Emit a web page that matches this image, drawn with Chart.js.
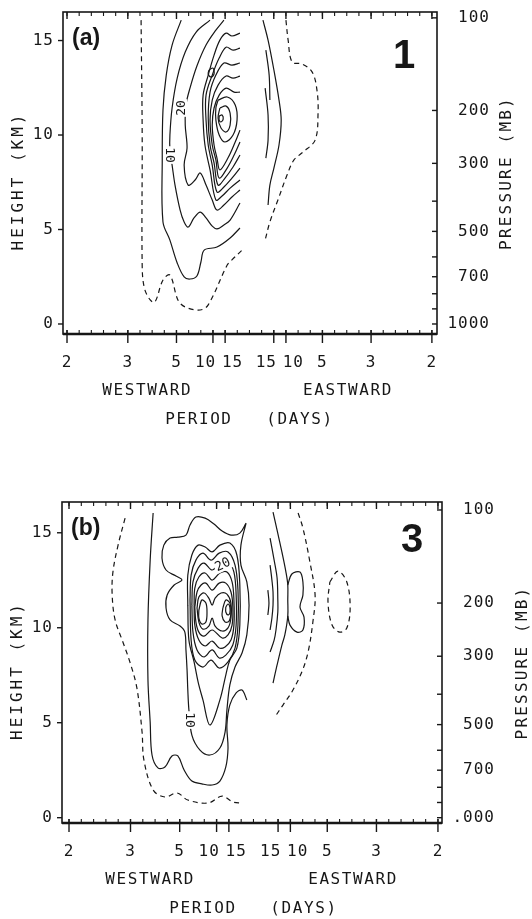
<!DOCTYPE html>
<html>
<head>
<meta charset="utf-8">
<script src="https://cdn.jsdelivr.net/npm/chart.js@4.4.1/dist/chart.umd.min.js"></script>
<style>
  html, body { margin: 0; padding: 0; background: #fff; }
  body { width: 532px; height: 919px; position: relative; overflow: hidden; }
  canvas { position: absolute; left: 0; }
  #chartA { top: 0; }
  #chartB { top: 460px; }
</style>
</head>
<body>
<canvas id="chartA" width="532" height="460"></canvas>
<canvas id="chartB" width="532" height="459"></canvas>
<script>
// ---------- axes ----------
// x is frequency in cycles/day (westward < 0), labelled by period in days
const periods = [2, 3, 5, 10, 15];
const heightTicks = [0, 5, 10, 15];                       // km
const pressureLevels = [100, 200, 300, 400, 500, 600, 700, 800, 900, 1000]; // mb
const pressureHeights = [16.2, 11.3, 8.5, 6.5, 4.9, 3.55, 2.5, 1.6, 0.8, 0];
const pressureLabelled = [100, 200, 300, 500, 700, 1000];
const pressureTextA = ['100', '200', '300', '500', '700', '1000'];
const pressureTextB = ['100', '200', '300', '500', '700', '.000'];

// ---------- panel (a): contour lines, [frequency, height km] ----------
const aZeroWest = [[-0.297,16.08],[-0.294,10.0],[-0.294,3.1],[-0.288,1.9],[-0.272,1.27],[-0.259,1.16],[-0.237,2.33],[-0.218,2.59],
  [-0.196,1.27],[-0.176,0.90],[-0.135,0.74],[-0.113,1.01],[-0.061,3.12],[-0.048,3.39],[-0.020,3.91]];
const aZeroEast = [[0.100,16.08],[0.106,15.02],[0.117,13.86],[0.144,13.76],[0.172,13.33],[0.185,12.38],[0.188,11.16],[0.180,9.73],
  [0.147,9.10],[0.122,8.68],[0.103,7.88],[0.078,6.56],[0.056,5.40],[0.043,4.44]];
const aOuter = [[-0.187,16.08],[-0.212,14.76],[-0.228,13.17],[-0.237,11.32],[-0.239,8.68],[-0.237,5.40],[-0.218,4.44],[-0.198,3.23],
  [-0.179,2.49],[-0.163,2.38],[-0.144,2.54],[-0.133,3.28],[-0.124,3.91],[-0.089,4.07],[-0.053,4.55],[-0.026,5.08]];
const aLine10 = [[-0.108,16.08],[-0.146,15.45],[-0.176,14.39],[-0.198,13.01],[-0.212,11.43],[-0.218,10.00],[-0.218,9.20],[-0.212,8.41],
  [-0.204,7.35],[-0.190,6.03],[-0.179,5.40],[-0.168,5.13],[-0.152,5.61],[-0.135,5.92],[-0.119,5.61],[-0.102,5.18],[-0.089,5.03],
  [-0.070,5.24],[-0.053,5.50],[-0.026,6.40]];
const aLine20 = [[-0.070,16.08],[-0.092,15.55],[-0.119,14.76],[-0.144,13.65],[-0.163,12.48],[-0.174,11.59],[-0.176,10.53],[-0.171,9.31],
  [-0.179,8.41],[-0.168,7.35],[-0.149,7.62],[-0.135,7.99],[-0.119,7.35],[-0.102,6.56],[-0.089,6.03],[-0.070,6.30],[-0.048,6.72],[-0.026,7.09]];
const aLine30 = [[-0.026,15.39],[-0.048,15.24],[-0.064,15.39],[-0.081,15.02],[-0.097,14.23],[-0.113,13.17],[-0.127,12.11],[-0.127,10.79],
  [-0.122,9.47],[-0.108,8.15],[-0.092,6.56],[-0.075,6.77],[-0.053,7.19],[-0.026,7.62]];
const aLine40 = [[-0.026,14.60],[-0.045,14.49],[-0.064,14.65],[-0.083,14.07],[-0.102,13.17],[-0.119,12.11],[-0.119,10.79],[-0.113,9.47],
  [-0.102,8.41],[-0.089,6.98],[-0.070,7.25],[-0.048,7.72],[-0.026,8.25]];
const aLine50 = [[-0.026,13.81],[-0.048,13.70],[-0.070,13.81],[-0.092,13.17],[-0.108,12.27],[-0.113,10.90],[-0.108,9.47],[-0.097,8.52],
  [-0.086,7.35],[-0.067,7.72],[-0.045,8.31],[-0.026,8.94]];
const aLine60 = [[-0.026,13.12],[-0.045,13.01],[-0.064,13.12],[-0.086,12.64],[-0.102,11.85],[-0.108,10.79],[-0.102,9.47],[-0.092,8.68],
  [-0.083,7.72],[-0.061,8.25],[-0.042,8.94],[-0.026,9.63]];
const aLine70 = [[-0.026,12.27],[-0.042,12.27],[-0.064,12.48],[-0.083,12.11],[-0.097,11.43],[-0.102,10.53],[-0.097,9.47],[-0.089,8.78],
  [-0.081,8.15],[-0.059,8.78],[-0.039,9.63],[-0.026,10.26]];
const aRing1 = [[-0.086,11.85],[-0.061,12.01],[-0.039,11.59],[-0.034,10.79],[-0.045,10.00],[-0.067,9.63],[-0.083,10.00],[-0.092,10.79],
  [-0.092,11.43],[-0.086,11.85]];
const aRing2 = [[-0.081,11.43],[-0.064,11.53],[-0.053,11.16],[-0.053,10.53],[-0.064,10.16],[-0.078,10.37],[-0.086,10.90],[-0.081,11.43]];
const aRing3 = [[-0.083,11.00],[-0.075,11.06],[-0.072,10.84],[-0.078,10.69],[-0.083,10.79],[-0.083,11.00]];
const aBlob = [[-0.111,13.44],[-0.100,13.54],[-0.097,13.23],[-0.105,13.07],[-0.113,13.23],[-0.111,13.44]];
const aEast1 = [[0.037,16.08],[0.051,15.02],[0.067,13.44],[0.081,11.85],[0.087,10.79],[0.081,9.47],[0.067,8.25],[0.056,7.35],[0.051,6.30]];
const aEast2 = [[0.045,14.49],[0.054,13.17],[0.056,11.85]];
const aEast3 = [[0.043,12.48],[0.051,11.06],[0.051,9.73],[0.045,8.78]];
const aLabels = [
  { text: '10', x: -0.220, y: 8.94, rot: 90 },
  { text: '20', x: -0.187, y: 11.43, rot: -90 }
];

// ---------- panel (b) ----------
const bZeroWest = [[-0.348,15.77],[-0.367,14.35],[-0.381,12.93],[-0.383,11.72],[-0.375,10.41],[-0.354,9.25],[-0.335,8.20],[-0.316,6.83],
  [-0.302,4.51],[-0.297,3.04],[-0.272,1.46],[-0.240,1.09],[-0.207,1.30],[-0.178,0.93],[-0.123,0.77],[-0.085,1.14],[-0.056,0.83],[-0.031,0.77]];
const bZeroEast = [[0.121,16.04],[0.134,15.25],[0.153,13.46],[0.167,11.72],[0.161,10.30],[0.148,8.72],[0.131,7.67],[0.104,6.62],
  [0.080,5.93],[0.058,5.30]];
const bZeroLoop = [[0.207,12.41],[0.229,12.98],[0.253,12.41],[0.262,11.04],[0.253,9.99],[0.234,9.77],[0.213,10.14],[0.202,11.35],[0.207,12.41]];
const bOuter = [[-0.272,16.04],[-0.280,13.56],[-0.286,10.41],[-0.286,7.25],[-0.280,5.04],[-0.275,3.30],[-0.259,2.62],[-0.240,2.67],
  [-0.221,3.25],[-0.205,3.25],[-0.188,2.51],[-0.167,1.93],[-0.140,1.78],[-0.112,1.72],[-0.091,1.93],[-0.075,2.67],[-0.069,3.67],
  [-0.072,4.88],[-0.064,5.94],[-0.047,6.57],[-0.031,6.72],[-0.018,6.20]];
const bLine10 = [[-0.020,15.51],[-0.037,14.98],[-0.061,14.88],[-0.085,15.09],[-0.107,15.46],[-0.131,15.77],[-0.156,15.83],[-0.172,15.41],
  [-0.183,14.88],[-0.205,14.77],[-0.226,14.72],[-0.243,14.35],[-0.248,13.67],[-0.237,13.04],[-0.210,12.72],[-0.194,12.51],[-0.215,12.25],
  [-0.234,11.72],[-0.237,11.04],[-0.226,10.41],[-0.199,10.09],[-0.186,9.77],[-0.183,8.83],[-0.180,7.77],[-0.178,6.72],[-0.175,5.67],
  [-0.167,4.35],[-0.145,3.56],[-0.118,3.30],[-0.091,3.67],[-0.077,4.51],[-0.072,5.67],[-0.064,6.99],[-0.050,7.93],[-0.031,8.67],
  [-0.018,9.62],[-0.012,11.19],[-0.018,12.41],[-0.034,13.30],[-0.034,14.35],[-0.020,15.51]];
const bLine15 = [[-0.178,11.19],[-0.178,12.77],[-0.167,13.83],[-0.150,14.35],[-0.131,14.25],[-0.112,13.99],[-0.091,14.35],[-0.064,14.46],
  [-0.045,13.83],[-0.037,12.25],[-0.037,10.14],[-0.045,8.93],[-0.064,8.30],[-0.075,7.51],[-0.091,6.20],[-0.118,4.88],[-0.137,6.20],
  [-0.150,7.14],[-0.161,8.20],[-0.175,9.35],[-0.178,11.19]];
const bLine20 = [[-0.172,11.46],[-0.169,12.77],[-0.156,13.56],[-0.137,13.93],[-0.115,13.56],[-0.093,13.93],[-0.069,13.99],[-0.050,13.30],
  [-0.042,11.98],[-0.042,10.14],[-0.050,8.93],[-0.069,8.20],[-0.093,7.88],[-0.115,8.30],[-0.137,7.93],[-0.159,8.30],[-0.169,9.35],[-0.172,11.46]];
const bLine25 = [[-0.167,11.19],[-0.164,12.41],[-0.150,13.14],[-0.134,13.40],[-0.112,13.04],[-0.091,13.40],[-0.069,13.46],[-0.053,12.93],
  [-0.047,11.72],[-0.047,10.14],[-0.056,9.09],[-0.075,8.56],[-0.093,8.41],[-0.112,8.83],[-0.134,8.46],[-0.153,8.83],[-0.164,9.77],[-0.167,11.19]];
const bLine30 = [[-0.161,11.19],[-0.159,12.09],[-0.148,12.67],[-0.131,12.88],[-0.112,12.51],[-0.091,12.88],[-0.072,12.93],[-0.058,12.41],
  [-0.053,11.46],[-0.053,10.14],[-0.061,9.35],[-0.077,8.99],[-0.093,8.93],[-0.112,9.30],[-0.131,9.04],[-0.148,9.35],[-0.159,10.14],[-0.161,11.19]];
const bLine35 = [[-0.159,11.09],[-0.153,11.88],[-0.142,12.25],[-0.129,12.35],[-0.112,11.98],[-0.093,12.35],[-0.075,12.35],[-0.061,11.88],
  [-0.056,11.09],[-0.058,10.14],[-0.069,9.62],[-0.085,9.46],[-0.112,9.88],[-0.134,9.56],[-0.148,9.77],[-0.156,10.30],[-0.159,11.09]];
const bLine40 = [[-0.153,11.04],[-0.148,11.62],[-0.134,11.83],[-0.121,11.56],[-0.112,11.19],[-0.104,11.56],[-0.088,11.83],[-0.072,11.77],
  [-0.061,11.30],[-0.061,10.51],[-0.069,9.99],[-0.085,9.83],[-0.104,10.09],[-0.112,10.51],[-0.121,10.09],[-0.137,9.93],[-0.148,10.30],[-0.153,11.04]];
const bPeakLeft = [[-0.148,10.93],[-0.140,11.46],[-0.129,11.30],[-0.126,10.83],[-0.129,10.30],[-0.140,10.20],[-0.148,10.51],[-0.148,10.93]];
const bPeakRight = [[-0.083,11.04],[-0.075,11.46],[-0.064,11.30],[-0.061,10.83],[-0.066,10.35],[-0.077,10.30],[-0.085,10.62],[-0.083,11.04]];
const bPeakTop = [[-0.075,11.09],[-0.069,11.25],[-0.064,11.09],[-0.064,10.77],[-0.069,10.67],[-0.075,10.83],[-0.075,11.09]];
const bEast1 = [[0.053,16.09],[0.064,15.14],[0.077,13.99],[0.088,12.93],[0.093,12.25],[0.093,11.46],[0.093,10.62],[0.085,9.62],
  [0.077,9.09],[0.064,8.04],[0.053,7.09]];
const bEastLobe = [[0.093,12.25],[0.104,12.83],[0.126,12.93],[0.134,12.41],[0.134,11.72],[0.126,11.09],[0.137,10.56],[0.134,9.88],
  [0.118,9.77],[0.099,10.14],[0.093,10.62]];
const bEast2 = [[0.045,14.72],[0.056,13.56],[0.064,12.62],[0.066,11.46],[0.066,10.83],[0.061,9.88],[0.056,9.35],[0.045,8.72]];
const bEast3 = [[0.045,13.30],[0.050,12.51],[0.053,11.88],[0.053,11.19],[0.050,10.51],[0.045,9.88]];
const bEast4 = [[0.039,11.98],[0.042,11.30],[0.039,10.67]];
const bLabels = [
  { text: '10', x: -0.175, y: 5.14, rot: 90 },
  { text: '20', x: -0.083, y: 13.30, rot: -25 }
];

// ---------- drawing ----------
const INK = '#171717';
const MONO = '"DejaVu Sans Mono", monospace';

function lineSet(points, dashed) {
  return {
    data: points.map(p => ({ x: p[0], y: p[1] })),
    showLine: true,
    borderColor: INK,
    borderWidth: 1.2,
    borderDash: dashed ? [5, 4] : [],
    pointRadius: 0,
    tension: 0.35,
    fill: false
  };
}

function periodTicks() {
  const west = periods.map(p => ({ value: -1 / p, label: String(p) }));
  const east = periods.slice().reverse().map(p => ({ value: 1 / p, label: String(p) }));
  return west.concat(east);
}

function decor(p) {
  return {
    id: 'decor',
    afterDatasetsDraw(chart) {
      const { ctx, chartArea: a, scales: { x, y } } = chart;
      const seg = (x1, y1, x2, y2) => { ctx.beginPath(); ctx.moveTo(x1, y1); ctx.lineTo(x2, y2); ctx.stroke(); };
      const text = (s, tx, ty, align, spacing) => {
        ctx.textAlign = align; ctx.letterSpacing = spacing + 'px'; ctx.fillText(s, tx, ty);
      };
      ctx.save();
      ctx.strokeStyle = INK;
      ctx.fillStyle = INK;
      ctx.textBaseline = 'middle';

      // contour labels, with a gap in the line
      ctx.font = '13px ' + MONO;
      ctx.letterSpacing = '0px';
      p.labels.forEach(l => {
        ctx.save();
        ctx.translate(x.getPixelForValue(l.x), y.getPixelForValue(l.y));
        ctx.rotate(l.rot * Math.PI / 180);
        const w = ctx.measureText(l.text).width;
        ctx.fillStyle = '#fff';
        ctx.fillRect(-w / 2 - 1, -6, w + 2, 12);
        ctx.fillStyle = INK;
        ctx.textAlign = 'center';
        ctx.fillText(l.text, 0, 0);
        ctx.restore();
      });

      // frame
      ctx.lineWidth = 1.6;
      ctx.strokeRect(a.left, a.top, a.right - a.left, a.bottom - a.top);
      ctx.lineWidth = 2.4;
      seg(a.left, a.bottom, a.right, a.bottom);

      // minor frequency ticks every 1/30 cpd, top and bottom
      ctx.lineWidth = 1.1;
      for (let k = -15; k <= 15; k++) {
        const px = x.getPixelForValue(k / 30);
        seg(px, a.bottom, px, a.bottom - 4);
        seg(px, a.top, px, a.top + 4);
      }

      // period ticks + labels
      ctx.font = '16px ' + MONO;
      const ticks = periodTicks();
      const pxs = ticks.map(t => x.getPixelForValue(t.value));
      const minGap = 27;
      ctx.lineWidth = 1.4;
      ticks.forEach((t, i) => {
        seg(pxs[i], a.bottom - 4, pxs[i], a.bottom + 9);
        seg(pxs[i], a.top, pxs[i], a.top + 7);
        let shift = 0;
        if (i > 0 && pxs[i] - pxs[i - 1] < minGap) shift += (minGap - (pxs[i] - pxs[i - 1])) / 2;
        if (i < ticks.length - 1 && pxs[i + 1] - pxs[i] < minGap) shift -= (minGap - (pxs[i + 1] - pxs[i])) / 2;
        text(t.label, pxs[i] + shift, a.bottom + 29, 'center', 1);
      });

      // height ticks (left)
      heightTicks.forEach(h => {
        const py = y.getPixelForValue(h);
        seg(a.left - 5, py, a.left, py);
        text(String(h), a.left - 9, py, 'right', 1);
      });

      // pressure ticks (right)
      pressureLevels.forEach((lev, i) => {
        const py = y.getPixelForValue(pressureHeights[i]);
        seg(a.right - 5, py, a.right, py);
        const j = pressureLabelled.indexOf(lev);
        if (j >= 0) text(p.pressureText[j], a.right + 53, py, 'right', 1);
      });

      // axis titles
      text('WESTWARD', x.getPixelForValue(-0.28), a.bottom + 57, 'center', 1.6);
      text('EASTWARD', x.getPixelForValue(0.27), a.bottom + 57, 'center', 1.6);
      text('PERIOD   (DAYS)', x.getPixelForValue(0.0), a.bottom + 86, 'center', 1.6);
      const midY = (a.top + a.bottom) / 2;
      ctx.save();
      ctx.translate(a.left - 44, midY + 8);
      ctx.rotate(-Math.PI / 2);
      text('HEIGHT (KM)', 0, 0, 'center', 3);
      ctx.restore();
      ctx.save();
      ctx.translate(a.right + p.rightTitle, midY);
      ctx.rotate(-Math.PI / 2);
      text('PRESSURE (MB)', 0, 0, 'center', 2.2);
      ctx.restore();

      // panel letter and wave number
      ctx.textBaseline = 'alphabetic';
      ctx.font = 'bold 23px "Liberation Sans", Arial, sans-serif';
      text(p.tag, a.left + 9, a.top + 33, 'left', 0);
      ctx.font = 'bold 40px "Liberation Sans", Arial, sans-serif';
      text(p.wave, a.right + p.waveDx, a.top + p.waveDy, 'center', 0);
      ctx.restore();
    }
  };
}

function makeChart(id, solid, dashed, p) {
  const sets = solid.map(l => lineSet(l, false)).concat(dashed.map(l => lineSet(l, true)));
  return new Chart(document.getElementById(id).getContext('2d'), {
    type: 'scatter',
    data: { datasets: sets },
    options: {
      responsive: false,
      animation: false,
      devicePixelRatio: 1,
      layout: { padding: p.padding },
      plugins: { legend: { display: false }, tooltip: { enabled: false } },
      scales: {
        x: { type: 'linear', min: p.xMin, max: p.xMax, display: false },
        y: { type: 'linear', min: p.yMin, max: p.yMax, display: false }
      }
    },
    plugins: [decor(p)]
  });
}

makeChart('chartA',
  [aOuter, aLine10, aLine20, aLine30, aLine40, aLine50, aLine60, aLine70, aRing1, aRing2, aRing3, aBlob, aEast1, aEast2, aEast3],
  [aZeroWest, aZeroEast],
  { padding: { left: 63, top: 12, right: 95, bottom: 126 }, xMin: -0.511, xMax: 0.514, yMin: -0.53, yMax: 16.51,
    labels: aLabels, pressureText: pressureTextA, rightTitle: 70, tag: '(a)', wave: '1', waveDx: -33, waveDy: 56 });

makeChart('chartB',
  [bOuter, bLine10, bLine15, bLine20, bLine25, bLine30, bLine35, bLine40, bPeakLeft, bPeakRight, bPeakTop,
   bEast1, bEastLobe, bEast2, bEast3, bEast4],
  [bZeroWest, bZeroEast, bZeroLoop],
  { padding: { left: 62, top: 42, right: 90, bottom: 96 }, xMin: -0.519, xMax: 0.511, yMin: -0.28, yMax: 16.62,
    labels: bLabels, pressureText: pressureTextB, rightTitle: 81, tag: '(b)', wave: '3', waveDx: -30, waveDy: 50 });
</script>
</body>
</html>
